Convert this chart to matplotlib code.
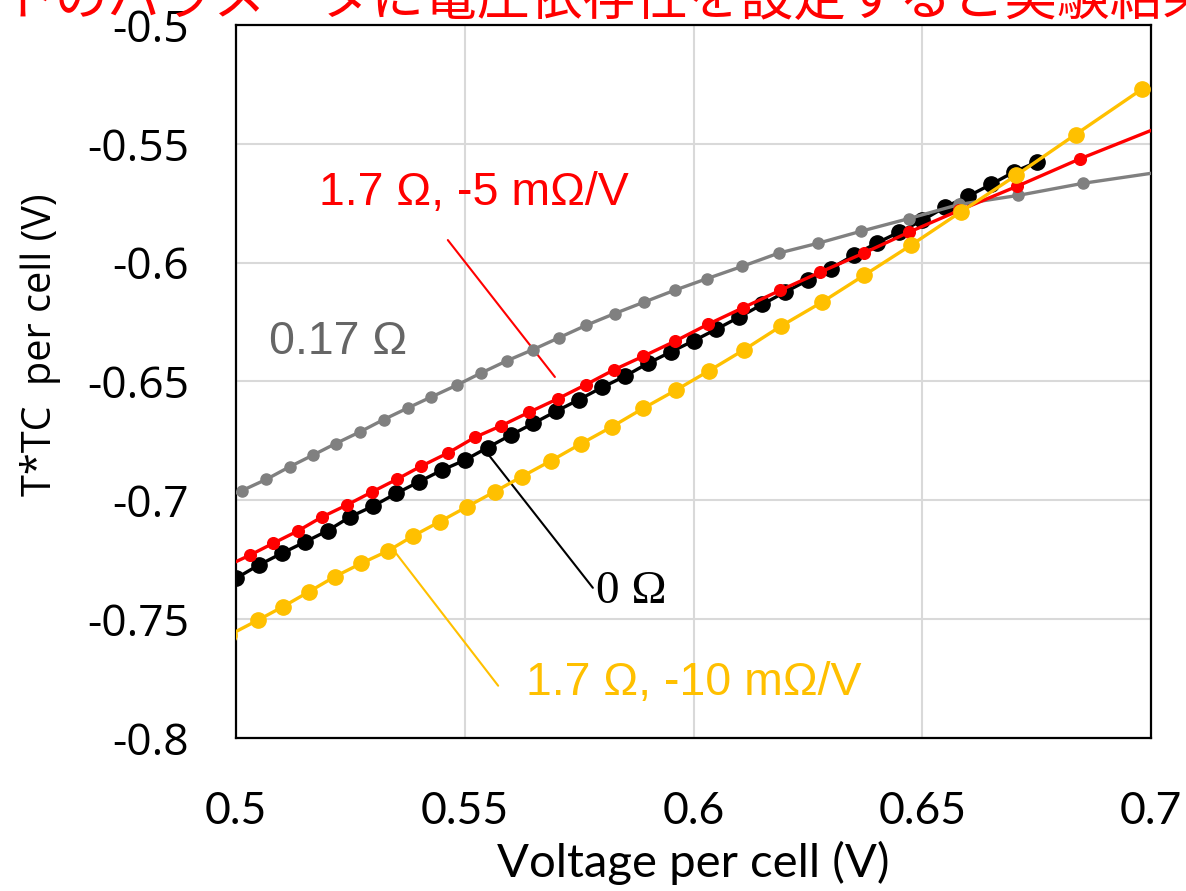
import numpy as np
import matplotlib
matplotlib.use("Agg")
import matplotlib.pyplot as plt
from matplotlib import font_manager


def pick_font(names, default="DejaVu Sans"):
    for n in names:
        try:
            font_manager.findfont(n, fallback_to_default=False)
            return n
        except Exception:
            pass
    return default


narrow = pick_font(["Liberation Sans Narrow", "Lato"])
sans = pick_font(["Open Sans", "Noto Sans"])
arial = pick_font(["Liberation Sans", "Arimo"])
serif = pick_font(["Liberation Serif", "DejaVu Serif"])

# 0 Ohm
v_black = [0.500, 0.505, 0.510, 0.515, 0.520, 0.525, 0.530, 0.535, 0.540, 0.545,
           0.550, 0.555, 0.560, 0.565, 0.570, 0.575, 0.580, 0.585, 0.590, 0.595,
           0.600, 0.605, 0.610, 0.615, 0.620, 0.625, 0.630, 0.635, 0.640, 0.645,
           0.650, 0.655, 0.660, 0.665, 0.670, 0.675]
t_black = [-0.7328, -0.7272, -0.7223, -0.7176, -0.7128, -0.7069, -0.7024, -0.6971, -0.6922, -0.6873,
           -0.6831, -0.6778, -0.6726, -0.6676, -0.6625, -0.6576, -0.6525, -0.6478, -0.6424, -0.6376,
           -0.6329, -0.6280, -0.6229, -0.6176, -0.6124, -0.6074, -0.6025, -0.5969, -0.5918, -0.5871,
           -0.5822, -0.5766, -0.5721, -0.5671, -0.5619, -0.5577]

# 0.17 Ohm
v_gray = [0.4960, 0.5012, 0.5066, 0.5117, 0.5168, 0.5218, 0.5271, 0.5323, 0.5376, 0.5427,
          0.5482, 0.5536, 0.5592, 0.5649, 0.5707, 0.5766, 0.5828, 0.5892, 0.5959, 0.6030,
          0.6106, 0.6186, 0.6273, 0.6366, 0.6470, 0.6581, 0.6710, 0.6852, 0.7040]
t_gray = [-0.6998, -0.6960, -0.6912, -0.6859, -0.6810, -0.6761, -0.6712, -0.6660, -0.6611, -0.6565,
          -0.6516, -0.6464, -0.6413, -0.6366, -0.6315, -0.6263, -0.6214, -0.6166, -0.6116, -0.6067,
          -0.6016, -0.5960, -0.5918, -0.5868, -0.5815, -0.5755, -0.5717, -0.5666, -0.5613]

# 1.7 Ohm, -5 mOhm/V
v_red = [0.4980, 0.5031, 0.5081, 0.5136, 0.5187, 0.5242, 0.5298, 0.5351, 0.5405, 0.5464,
         0.5522, 0.5580, 0.5640, 0.5703, 0.5765, 0.5827, 0.5890, 0.5959, 0.6031, 0.6108,
         0.6190, 0.6277, 0.6372, 0.6472, 0.6581, 0.6707, 0.6845, 0.7035]
t_red = [-0.7276, -0.7230, -0.7181, -0.7128, -0.7071, -0.7020, -0.6964, -0.6912, -0.6856, -0.6800,
         -0.6735, -0.6686, -0.6630, -0.6573, -0.6513, -0.6450, -0.6394, -0.6331, -0.6260, -0.6190,
         -0.6116, -0.6040, -0.5960, -0.5871, -0.5780, -0.5679, -0.5563, -0.5417]

# 1.7 Ohm, -10 mOhm/V
v_yel = [0.4985, 0.5049, 0.5103, 0.5160, 0.5216, 0.5274, 0.5333, 0.5387, 0.5445, 0.5505,
         0.5565, 0.5625, 0.5689, 0.5755, 0.5822, 0.5890, 0.5961, 0.6034, 0.6111, 0.6192,
         0.6281, 0.6373, 0.6475, 0.6584, 0.6705, 0.6835, 0.6981]
t_yel = [-0.7567, -0.7503, -0.7447, -0.7384, -0.7321, -0.7265, -0.7212, -0.7150, -0.7090, -0.7027,
         -0.6964, -0.6900, -0.6833, -0.6761, -0.6690, -0.6613, -0.6537, -0.6455, -0.6366, -0.6266,
         -0.6166, -0.6053, -0.5927, -0.5787, -0.5633, -0.5461, -0.5269]

x_ticks = [0.5, 0.55, 0.6, 0.65, 0.7]
y_ticks = [-0.5, -0.55, -0.6, -0.65, -0.7, -0.75, -0.8]

title = "トのパラメータに電圧依存性を設定すると実験結果"

fig = plt.figure(figsize=(11.86, 8.91), dpi=100)
ax = fig.add_axes([0.199, 0.1717, 0.7715, 0.8003])

ax.plot(v_black, t_black, "-o", color="black", lw=2.4, ms=11, zorder=3)
ax.plot(v_gray, t_gray, "-o", color="#808080", lw=2.4, ms=8.0, zorder=4)
ax.plot(v_red, t_red, "-o", color="#ff0000", lw=2.4, ms=8.4, zorder=5)
ax.plot(v_yel, t_yel, "-o", color="#ffc000", lw=2.4, ms=11, zorder=6)

ax.set_xlim(0.5, 0.7)
ax.set_ylim(-0.8, -0.5)
ax.set_xticks(x_ticks)
ax.set_xticklabels([f"{v:g}" for v in x_ticks], fontfamily=narrow, fontsize=32)
ax.set_yticks(y_ticks)
ax.set_yticklabels([f"{v:g}" for v in y_ticks], fontfamily=sans, fontsize=32)
ax.tick_params(axis="both", length=0)
ax.tick_params(axis="x", pad=38)
ax.tick_params(axis="y", pad=34)
ax.grid(True, color="#d9d9d9", lw=1.5)
ax.set_axisbelow(True)
for s in ax.spines.values():
    s.set_color("black")
    s.set_linewidth(1.6)

ax.set_xlabel("Voltage per cell (V)", fontfamily=narrow, fontsize=34, va="center")
ax.xaxis.set_label_coords(0.5, -0.175)
ax.set_ylabel("T*TC  per cell (V)", fontfamily=sans, fontsize=28.5, va="center")
ax.yaxis.set_label_coords(-0.214, 0.551)

# labels and leader lines
ax.text(0.5519, -0.5709, "1.7 Ω, -5 mΩ/V", color="#ff0000", fontsize=33.5,
        fontfamily=arial, ha="center", va="center")
ax.annotate("", xy=(0.5697, -0.6481), xytext=(0.5463, -0.5905),
            arrowprops=dict(arrowstyle="-", color="#ff0000", lw=1.5, shrinkA=0, shrinkB=0))
ax.text(0.5224, -0.6335, "0.17 Ω", color="#666666", fontsize=33.5,
        fontfamily=arial, ha="center", va="center")
ax.text(0.5864, -0.7385, "0 Ω", color="black", fontsize=34,
        fontfamily=serif, ha="center", va="center")
ax.annotate("", xy=(0.5547, -0.6796), xytext=(0.5780, -0.7368),
            arrowprops=dict(arrowstyle="-", color="black", lw=1.5, shrinkA=0, shrinkB=0))
ax.text(0.6001, -0.7768, "1.7 Ω, -10 mΩ/V", color="#ffc000", fontsize=33.5,
        fontfamily=arial, ha="center", va="center")
ax.annotate("", xy=(0.5347, -0.7216), xytext=(0.5573, -0.7780),
            arrowprops=dict(arrowstyle="-", color="#ffc000", lw=1.5, shrinkA=0, shrinkB=0))

fig.text(0.0025, 1.0, title, color="#ff0000", fontsize=38,
         fontfamily=["Noto Sans CJK JP", "DejaVu Sans"], ha="left", va="center")

fig.savefig("out.png", dpi=100)
